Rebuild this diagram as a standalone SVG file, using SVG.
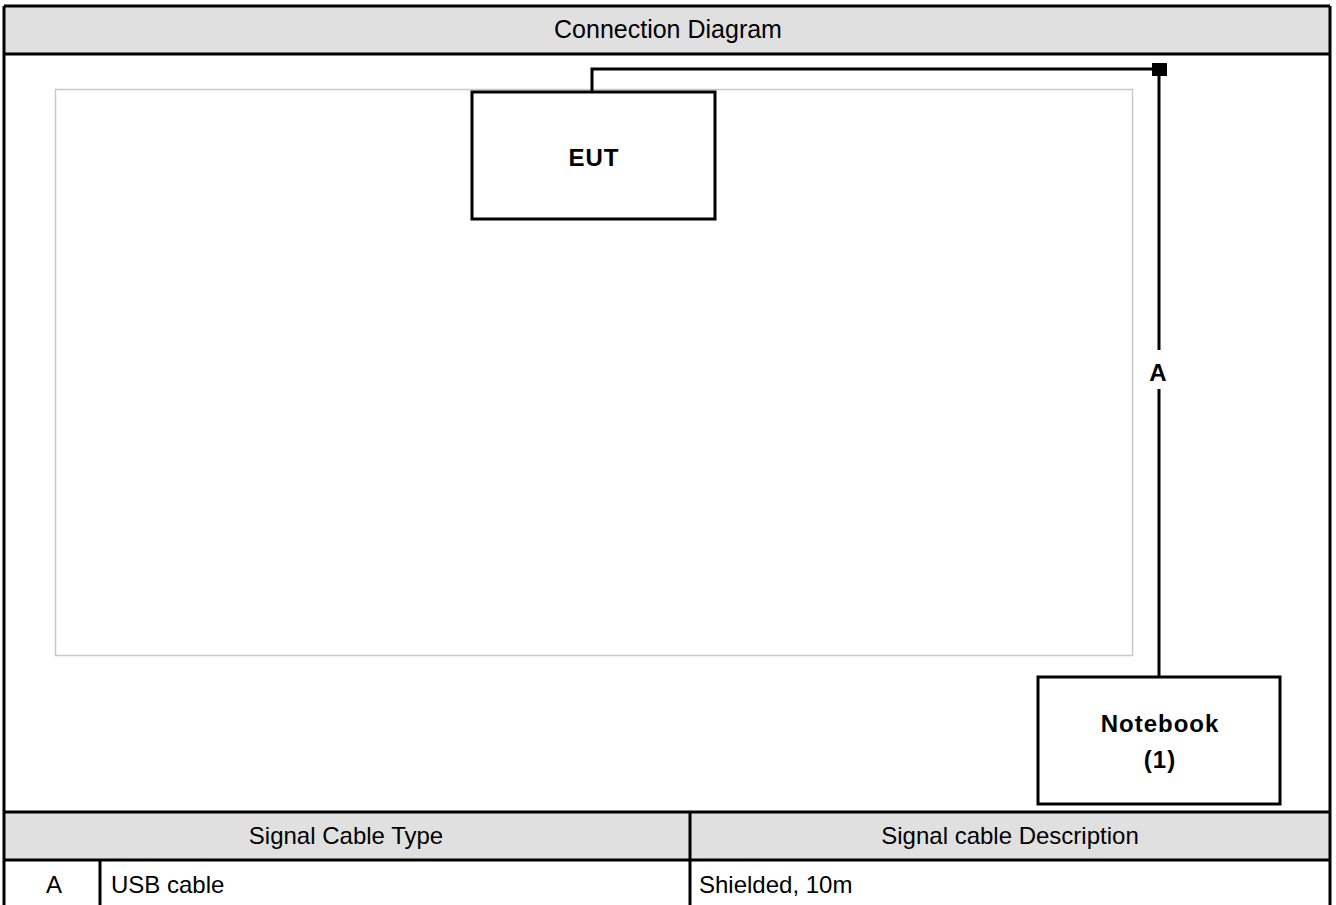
<svg xmlns="http://www.w3.org/2000/svg" width="1336" height="905" viewBox="0 0 1336 905">
  <style>
    .t { font-family: "Liberation Sans", Arial, sans-serif; font-size: 24px; fill: #000; }
    .h { font-family: "Liberation Sans", Arial, sans-serif; font-size: 25px; fill: #000; }
    .b { font-family: "Liberation Sans", Arial, sans-serif; font-size: 24px; font-weight: bold; letter-spacing: 1px; fill: #000; }
    .frame { fill: none; stroke: #000; stroke-width: 3; }
    .box { fill: #fff; stroke: #000; stroke-width: 3; }
    .cable { fill: none; stroke: #000; stroke-width: 3; }
    .head { fill: #e0e0e0; }
  </style>
  <rect x="0" y="0" width="1336" height="905" fill="#fff"/>
  <g id="table">
    <rect class="head" x="4" y="6" width="1326" height="48"/>
    <rect class="head" x="4" y="812" width="1326" height="48"/>
    <line class="frame" x1="4" y1="6" x2="1330" y2="6"/>
    <line class="frame" x1="4" y1="54" x2="1330" y2="54"/>
    <line class="frame" x1="4" y1="812" x2="1330" y2="812"/>
    <line class="frame" x1="4" y1="860" x2="1330" y2="860"/>
    <line class="frame" x1="4" y1="6" x2="4" y2="905"/>
    <line class="frame" x1="1330" y1="6" x2="1330" y2="905"/>
    <line class="frame" x1="690" y1="812" x2="690" y2="905"/>
    <line class="frame" x1="100" y1="860" x2="100" y2="905"/>
    <text class="h" x="668" y="38" text-anchor="middle">Connection Diagram</text>
    <text class="t" x="346" y="844" text-anchor="middle">Signal Cable Type</text>
    <text class="t" x="1010" y="844" text-anchor="middle">Signal cable Description</text>
    <text class="t" x="54" y="893" text-anchor="middle">A</text>
    <text class="t" x="111" y="893">USB cable</text>
    <text class="t" x="699" y="893">Shielded, 10m</text>
  </g>
  <g id="area">
    <rect x="55.5" y="89.5" width="1077" height="566" fill="none" stroke="#c8c8c8" stroke-width="1.5"/>
  </g>
  <g id="connectors">
    <polyline class="cable" points="592,92 592,69 1159,69"/>
    <rect x="1152" y="63" width="15" height="13" fill="#000"/>
    <line class="cable" x1="1159" y1="76" x2="1159" y2="350"/>
    <line class="cable" x1="1159" y1="389" x2="1159" y2="677"/>
    <text class="b" x="1158" y="381" text-anchor="middle" style="letter-spacing:0">A</text>
  </g>
  <g id="eut">
    <rect class="box" x="472" y="92" width="243" height="127"/>
    <text class="b" x="594" y="166" text-anchor="middle">EUT</text>
  </g>
  <g id="notebook">
    <rect class="box" x="1038" y="677" width="242" height="127"/>
    <text class="b" x="1160" y="732" text-anchor="middle">Notebook</text>
    <text class="b" x="1160" y="768" text-anchor="middle">(1)</text>
  </g>
</svg>
